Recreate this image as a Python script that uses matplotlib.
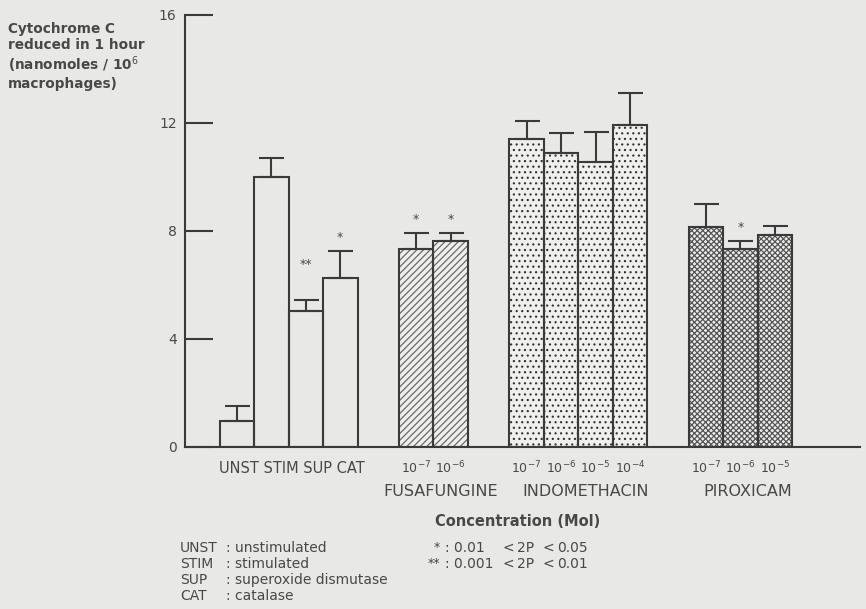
import numpy as np
import matplotlib
matplotlib.use("Agg")
import matplotlib.pyplot as plt

plt.rcParams["font.family"] = "DejaVu Sans"
plt.rcParams["mathtext.fontset"] = "dejavusans"

# ---- Data ----
control_labels = ["UNST", "STIM", "SUP", "CAT"]
control_vals = [0.96, 10.0, 5.04, 6.26]
control_err = [0.56, 0.70, 0.40, 1.00]
control_stars = ["", "", "**", "*"]

drug_names = ["FUSAFUNGINE", "INDOMETHACIN", "PIROXICAM"]

fusa_exp = [-7, -6]
fusa_vals = [7.33, 7.63]
fusa_err = [0.60, 0.30]
fusa_stars = ["*", "*"]

indo_exp = [-7, -6, -5, -4]
indo_vals = [11.41, 10.89, 10.56, 11.93]
indo_err = [0.66, 0.74, 1.11, 1.18]
indo_stars = ["", "", "", ""]

piro_exp = [-7, -6, -5]
piro_vals = [8.15, 7.33, 7.85]
piro_err = [0.85, 0.30, 0.34]
piro_stars = ["", "*", ""]

yticks = [0, 4, 8, 12, 16]

legend_abbr = ["UNST", "STIM", "SUP", "CAT"]
legend_desc = ["unstimulated", "stimulated", "superoxide dismutase", "catalase"]

# ---- Style ----
BG = "#e8e8e6"
INK = "#3a3a3a"
TXT = "#484848"
GAP = 1.2
PX = 34.5  # pixels per bar width

# (values, errors, stars, hatch, fill, hatch colour, hatch linewidth)
groups = [
    (control_vals, control_err, control_stars, None, BG, INK, 0.8),
    (fusa_vals, fusa_err, fusa_stars, "/////", "#efefed", "#6a6a6a", 0.9),
    (indo_vals, indo_err, indo_stars, "...", "#efefed", "#2e2e2e", 0.8),
    (piro_vals, piro_err, piro_stars, "xxxxxx", "#ececea", "#555555", 0.9),
]

fig = plt.figure(figsize=(8.66, 6.09), dpi=100, facecolor=BG)
ax = fig.add_axes([185 / 866, 1 - 447 / 609, 675 / 866, 432 / 609])
ax.set_facecolor(BG)

start = 1.0
centers = []
for vals, errs, stars, hatch, fill, hcol, hlw in groups:
    xs = start + 0.5 + np.arange(len(vals))
    centers.append(xs)
    if hatch:
        with plt.rc_context({"hatch.linewidth": hlw}):
            ax.bar(xs, vals, width=1.0, facecolor=fill, edgecolor=hcol,
                   hatch=hatch, linewidth=0, zorder=2)
    ax.bar(xs, vals, width=1.0, fill=False, edgecolor=INK,
           linewidth=1.5, zorder=3)
    ax.errorbar(xs, vals, yerr=[np.zeros(len(vals)), errs], fmt="none",
                ecolor=INK, elinewidth=1.5, capsize=9, capthick=1.5, zorder=4)
    for x, v, e, s in zip(xs, vals, errs, stars):
        if s:
            off = 21 if s == "**" else 5
            ax.annotate(s, (x, v + e), xytext=(0, off), textcoords="offset points",
                        ha="center", va="bottom", fontsize=9, color=TXT)
    start += len(vals) + GAP

ax.set_xlim(0, 675 / PX)
ax.set_ylim(0, 16)
ax.set_yticks(yticks)
ax.set_yticklabels([str(t) for t in yticks])
ax.set_xticks([])
ax.tick_params(axis="y", direction="in", length=20.5, width=1.5, color=INK,
               labelsize=10, labelcolor=TXT, pad=6)
for side in ["top", "right"]:
    ax.spines[side].set_visible(False)
for side in ["left", "bottom"]:
    ax.spines[side].set_color(INK)
    ax.spines[side].set_linewidth(1.5)

# x labels under the bars
tf = ax.get_xaxis_transform()
ax.text(centers[0].mean() + 0.1, -0.033, " ".join(control_labels), transform=tf,
        ha="center", va="top", fontsize=10.5, color=TXT)
for xs, exps in zip(centers[1:], [fusa_exp, indo_exp, piro_exp]):
    for x, e in zip(xs, exps):
        ax.text(x, -0.03, r"$10^{%d}$" % e, transform=tf, ha="center",
                va="top", fontsize=9, color=TXT)
for xs, name in zip(centers[1:], drug_names):
    ax.text(xs.mean() + 0.2, -0.085, name, transform=tf, ha="center", va="top",
            fontsize=11.5, color=TXT)

fig.text(518 / 866, 1 - 521 / 609, "Concentration (Mol)", ha="center",
         va="center", fontsize=10.5, fontweight="bold", color=TXT)

# y label, top-left
fig.text(8 / 866, 1 - 22 / 609,
         "Cytochrome C\nreduced in 1 hour\n(nanomoles / 10$^6$\nmacrophages)",
         ha="left", va="top", fontsize=9.8, fontweight="bold", color=TXT,
         linespacing=1.18)

# legend block
for i, (a, d) in enumerate(zip(legend_abbr, legend_desc)):
    y = 1 - (548 + 16 * i) / 609
    fig.text(180 / 866, y, a, ha="left", va="center", fontsize=10, color=TXT)
    fig.text(226 / 866, y, ": " + d, ha="left", va="center", fontsize=10, color=TXT)

sig_stars = ["*", "**"]
sig_lo = ["0.01", "0.001"]
sig_hi = ["0.05", "0.01"]
for i, (s, lo, hi) in enumerate(zip(sig_stars, sig_lo, sig_hi)):
    y = 1 - (548 + 16 * i) / 609
    fig.text(440 / 866, y, s, ha="right", va="center", fontsize=9, color=TXT)
    fig.text(445 / 866, y, ": " + lo, ha="left", va="center", fontsize=10, color=TXT)
    fig.text(502 / 866, y, "<", ha="left", va="center", fontsize=10, color=TXT)
    fig.text(517 / 866, y, "2P", ha="left", va="center", fontsize=10, color=TXT)
    fig.text(542 / 866, y, "<", ha="left", va="center", fontsize=10, color=TXT)
    fig.text(557 / 866, y, hi, ha="left", va="center", fontsize=10, color=TXT)

fig.savefig("out.png", dpi=100, facecolor=BG)
